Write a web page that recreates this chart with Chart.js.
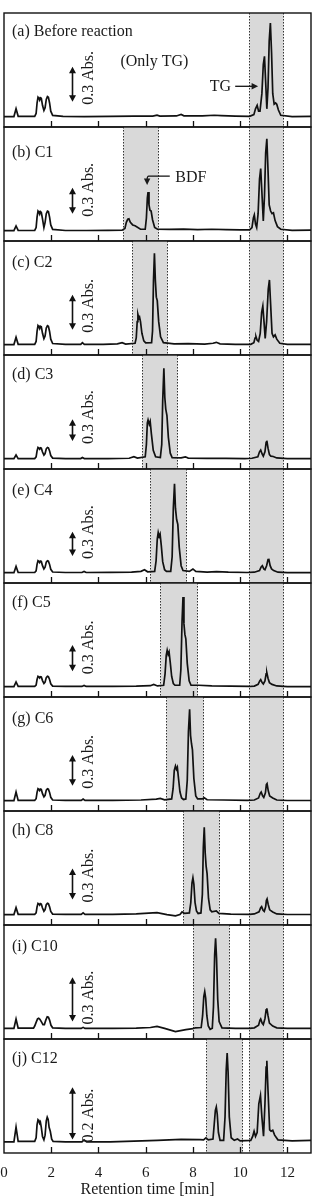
<!DOCTYPE html>
<html>
<head>
<meta charset="utf-8">
<script src="https://cdn.jsdelivr.net/npm/chart.js@4.4.0/dist/chart.umd.min.js"></script>
<style>
  html, body { margin: 0; padding: 0; background: #fff; }
  #wrap { position: relative; width: 315px; height: 1201px; overflow: hidden; }
  #wrap canvas { position: absolute; left: 0; }
</style>
</head>
<body>
<div id="wrap"></div>
<script>
// chromatograms: [retention time (min), absorbance (Abs.)]
const traceA = [[0,0.004],[0.42,0.004],[0.51,0.071],[0.6,0.006],[1.3,0.006],[1.36,0.03],[1.4,0.12],[1.44,0.17],[1.48,0.16],[1.51,0.145],[1.54,0.165],[1.58,0.16],[1.63,0.1],[1.69,0.056],[1.74,0.08],[1.79,0.15],[1.84,0.175],[1.88,0.17],[1.93,0.12],[1.98,0.05],[2.06,0.014],[2.5,0.006],[3.4,0.004],[4.5,0.006],[5.5,0.007],[6.3,0.008],[6.48,0.016],[6.6,0.008],[7.3,0.009],[7.5,0.022],[7.62,0.01],[8.4,0.01],[8.9,0.015],[9.2,0.012],[9.8,0.008],[10.4,0.006],[10.58,0.02],[10.65,0.07],[10.72,0.1],[10.78,0.05],[10.84,0.05],[10.92,0.2],[10.98,0.45],[11.03,0.52],[11.08,0.3],[11.13,0.07],[11.18,0.25],[11.23,0.65],[11.28,0.805],[11.33,0.55],[11.38,0.2],[11.44,0.11],[11.5,0.12],[11.55,0.11],[11.62,0.06],[11.72,0.015],[12.2,0.004],[13,0.006]];
const traceB = [[0,0.004],[0.42,0.004],[0.51,0.058],[0.6,0.006],[1.3,0.006],[1.36,0.04],[1.4,0.16],[1.44,0.23],[1.48,0.215],[1.51,0.195],[1.54,0.225],[1.58,0.215],[1.63,0.14],[1.69,0.04],[1.74,0.1],[1.79,0.2],[1.84,0.23],[1.88,0.225],[1.93,0.16],[1.98,0.07],[2.06,0.018],[2.6,0.006],[3.5,0.006],[4.4,0.008],[5,0.01],[5.12,0.03],[5.18,0.1],[5.24,0.135],[5.29,0.14],[5.35,0.1],[5.45,0.07],[5.55,0.06],[5.78,0.02],[5.98,0.02],[6.03,0.15],[6.07,0.38],[6.1,0.45],[6.14,0.3],[6.18,0.24],[6.23,0.23],[6.29,0.13],[6.38,0.04],[6.5,0.02],[7,0.018],[7.6,0.022],[8.2,0.016],[8.8,0.02],[9.4,0.016],[10,0.014],[10.4,0.012],[10.5,0.04],[10.56,0.15],[10.6,0.185],[10.65,0.08],[10.7,0.04],[10.76,0.2],[10.82,0.6],[10.87,0.72],[10.92,0.45],[10.98,0.115],[11.03,0.4],[11.08,0.9],[11.13,1.065],[11.18,0.7],[11.23,0.3],[11.29,0.23],[11.35,0.2],[11.41,0.21],[11.48,0.12],[11.58,0.05],[11.72,0.02],[12.2,0.008],[13,0.01]];
const traceC = [[0,0.004],[0.42,0.004],[0.51,0.066],[0.6,0.006],[1.3,0.006],[1.36,0.03],[1.4,0.116],[1.44,0.166],[1.48,0.156],[1.51,0.141],[1.54,0.161],[1.58,0.156],[1.63,0.1],[1.69,0.055],[1.74,0.078],[1.79,0.146],[1.84,0.166],[1.88,0.161],[1.93,0.116],[1.98,0.05],[2.06,0.013],[2.6,0.006],[3.25,0.006],[3.32,0.02],[3.4,0.006],[4.2,0.006],[4.8,0.01],[5,0.02],[5.15,0.008],[5.55,0.015],[5.6,0.06],[5.64,0.2],[5.67,0.263],[5.71,0.23],[5.74,0.24],[5.78,0.2],[5.84,0.1],[5.92,0.035],[6,0.018],[6.25,0.02],[6.29,0.12],[6.33,0.55],[6.37,0.786],[6.41,0.55],[6.45,0.41],[6.49,0.38],[6.55,0.2],[6.63,0.07],[6.75,0.02],[7.2,0.01],[7.8,0.012],[8.5,0.008],[8.85,0.015],[8.99,0.023],[9.15,0.01],[9.8,0.006],[10.45,0.006],[10.58,0.02],[10.63,0.06],[10.67,0.071],[10.72,0.04],[10.78,0.03],[10.85,0.1],[10.91,0.28],[10.96,0.334],[11.01,0.2],[11.06,0.057],[11.12,0.2],[11.19,0.48],[11.24,0.557],[11.29,0.35],[11.35,0.1],[11.41,0.07],[11.48,0.086],[11.55,0.05],[11.68,0.015],[12,0.006],[13,0.006]];
const traceD = [[0,0.004],[0.42,0.004],[0.51,0.055],[0.6,0.006],[1.3,0.006],[1.36,0.029],[1.4,0.112],[1.44,0.16],[1.48,0.15],[1.51,0.136],[1.54,0.155],[1.58,0.15],[1.63,0.096],[1.69,0.053],[1.74,0.075],[1.79,0.141],[1.84,0.16],[1.88,0.155],[1.93,0.112],[1.98,0.048],[2.06,0.013],[2.6,0.006],[3.25,0.006],[3.32,0.02],[3.4,0.006],[4.4,0.006],[5.3,0.01],[5.5,0.032],[5.65,0.012],[5.98,0.03],[6.03,0.2],[6.07,0.5],[6.1,0.54],[6.15,0.48],[6.19,0.52],[6.24,0.35],[6.32,0.12],[6.42,0.03],[6.62,0.02],[6.68,0.2],[6.72,0.8],[6.77,1.254],[6.81,0.85],[6.85,0.69],[6.9,0.6],[6.96,0.3],[7.04,0.08],[7.12,0.02],[7.5,0.015],[7.68,0.03],[7.8,0.012],[8.6,0.01],[9.4,0.008],[10.2,0.006],[10.5,0.01],[10.75,0.03],[10.82,0.1],[10.87,0.124],[10.93,0.07],[10.98,0.04],[11.05,0.1],[11.1,0.23],[11.13,0.254],[11.18,0.15],[11.24,0.06],[11.3,0.04],[11.4,0.035],[11.55,0.015],[12,0.006],[13,0.006]];
const traceE = [[0,0.004],[0.42,0.004],[0.51,0.082],[0.6,0.006],[1.3,0.006],[1.36,0.027],[1.4,0.106],[1.44,0.152],[1.48,0.143],[1.51,0.129],[1.54,0.147],[1.58,0.143],[1.63,0.091],[1.69,0.05],[1.74,0.071],[1.79,0.134],[1.84,0.152],[1.88,0.147],[1.93,0.106],[1.98,0.046],[2.06,0.012],[2.6,0.006],[3.3,0.006],[3.39,0.02],[3.48,0.006],[4.5,0.008],[5.4,0.01],[5.8,0.02],[5.95,0.041],[6.08,0.015],[6.38,0.02],[6.44,0.15],[6.49,0.42],[6.53,0.5],[6.57,0.45],[6.61,0.48],[6.66,0.34],[6.72,0.14],[6.8,0.04],[6.88,0.02],[7.06,0.02],[7.12,0.2],[7.17,0.8],[7.22,1.1],[7.26,0.8],[7.31,0.66],[7.36,0.6],[7.42,0.32],[7.5,0.09],[7.58,0.03],[7.85,0.02],[8,0.05],[8.12,0.02],[8.6,0.012],[9,0.018],[9.5,0.01],[10.3,0.006],[10.6,0.01],[10.82,0.03],[10.89,0.075],[10.94,0.09],[11.0,0.05],[11.05,0.04],[11.12,0.09],[11.18,0.165],[11.21,0.177],[11.27,0.09],[11.33,0.05],[11.42,0.03],[11.6,0.01],[12,0.005],[13,0.005]];
const traceF = [[0,0.004],[0.42,0.004],[0.51,0.057],[0.6,0.006],[1.3,0.006],[1.36,0.022],[1.4,0.085],[1.44,0.122],[1.48,0.115],[1.51,0.104],[1.54,0.118],[1.58,0.115],[1.63,0.073],[1.69,0.04],[1.74,0.057],[1.79,0.107],[1.84,0.122],[1.88,0.118],[1.93,0.085],[1.98,0.037],[2.06,0.01],[2.6,0.006],[3.3,0.006],[3.39,0.018],[3.48,0.006],[4.6,0.008],[5.6,0.01],[6.2,0.015],[6.34,0.03],[6.5,0.012],[6.76,0.02],[6.82,0.15],[6.87,0.36],[6.91,0.418],[6.95,0.37],[6.99,0.4],[7.04,0.28],[7.1,0.12],[7.17,0.04],[7.24,0.02],[7.44,0.02],[7.49,0.2],[7.54,0.75],[7.58,1.026],[7.62,0.72],[7.66,0.6],[7.7,0.55],[7.76,0.27],[7.84,0.07],[7.92,0.02],[8.24,0.02],[8.8,0.012],[9.6,0.01],[10.4,0.006],[10.6,0.01],[10.76,0.03],[10.83,0.07],[10.87,0.084],[10.93,0.05],[10.98,0.035],[11.05,0.07],[11.1,0.15],[11.13,0.163],[11.18,0.1],[11.24,0.05],[11.35,0.03],[11.55,0.012],[12,0.005],[13,0.005]];
const traceG = [[0,0.004],[0.42,0.004],[0.51,0.088],[0.6,0.006],[1.3,0.006],[1.36,0.022],[1.4,0.084],[1.44,0.12],[1.48,0.113],[1.51,0.102],[1.54,0.116],[1.58,0.113],[1.63,0.072],[1.69,0.04],[1.74,0.056],[1.79,0.106],[1.84,0.12],[1.88,0.116],[1.93,0.084],[1.98,0.036],[2.06,0.01],[2.6,0.006],[3.27,0.006],[3.35,0.02],[3.43,0.006],[4.6,0.006],[5.8,0.01],[6.45,0.018],[6.62,0.026],[6.8,0.012],[7.1,0.02],[7.16,0.12],[7.21,0.3],[7.26,0.342],[7.3,0.31],[7.34,0.33],[7.39,0.22],[7.45,0.09],[7.52,0.03],[7.6,0.015],[7.7,0.02],[7.76,0.2],[7.81,0.68],[7.86,0.896],[7.9,0.64],[7.94,0.56],[7.98,0.5],[8.04,0.22],[8.12,0.05],[8.2,0.02],[8.4,0.02],[8.48,0.032],[8.6,0.012],[9.3,0.01],[10.3,0.006],[10.6,0.01],[10.78,0.03],[10.85,0.075],[10.89,0.088],[10.95,0.05],[11.0,0.035],[11.07,0.08],[11.11,0.16],[11.14,0.17],[11.19,0.1],[11.25,0.05],[11.38,0.03],[11.55,0.01],[12,0.005],[13,0.005]];
const traceH = [[0,0.004],[0.42,0.004],[0.51,0.071],[0.6,0.006],[1.3,0.006],[1.36,0.02],[1.4,0.079],[1.44,0.113],[1.48,0.106],[1.51,0.096],[1.54,0.11],[1.58,0.106],[1.63,0.068],[1.69,0.037],[1.74,0.053],[1.79,0.1],[1.84,0.113],[1.88,0.11],[1.93,0.079],[1.98,0.034],[2.06,0.009],[2.6,0.006],[3.27,0.006],[3.35,0.02],[3.43,0.006],[4.6,0.006],[5.6,0.01],[6.48,0.022],[6.9,0.004],[7.26,-0.008],[7.45,0.004],[7.54,0.03],[7.65,0.015],[7.85,0.02],[7.91,0.12],[7.96,0.31],[8,0.361],[8.04,0.3],[8.09,0.12],[8.15,0.04],[8.22,0.015],[8.34,0.02],[8.4,0.2],[8.44,0.65],[8.48,0.849],[8.52,0.6],[8.56,0.47],[8.6,0.4],[8.66,0.16],[8.73,0.05],[8.8,0.03],[8.99,0.04],[9.1,0.015],[9.6,0.008],[10.4,0.006],[10.6,0.01],[10.8,0.03],[10.87,0.07],[10.91,0.081],[10.97,0.045],[11.02,0.035],[11.08,0.08],[11.11,0.14],[11.14,0.155],[11.19,0.1],[11.25,0.05],[11.38,0.03],[11.55,0.01],[12,0.005],[13,0.005]];
const traceI = [[0,0.004],[0.42,0.004],[0.51,0.068],[0.6,0.006],[1.25,0.006],[1.3,0.02],[1.36,0.045],[1.42,0.068],[1.47,0.072],[1.52,0.066],[1.58,0.05],[1.65,0.03],[1.71,0.03],[1.77,0.06],[1.83,0.083],[1.88,0.08],[1.93,0.06],[1.99,0.025],[2.06,0.008],[2.6,0.004],[3.27,0.004],[3.35,0.011],[3.43,0.004],[4.6,0.004],[5.6,0.006],[6.2,0.01],[6.48,0.018],[6.8,0.004],[7.26,-0.018],[7.7,-0.004],[8,0.002],[8.1,0.008],[8.35,0.01],[8.41,0.09],[8.46,0.22],[8.5,0.253],[8.54,0.21],[8.59,0.09],[8.65,0.02],[8.73,-0.002],[8.82,0.005],[8.87,0.15],[8.92,0.5],[8.96,0.614],[9,0.48],[9.05,0.2],[9.11,0.05],[9.23,0.008],[9.8,0.004],[10.4,0.004],[10.6,0.008],[10.78,0.025],[10.84,0.06],[10.87,0.068],[10.93,0.04],[10.98,0.03],[11.05,0.07],[11.1,0.13],[11.13,0.14],[11.18,0.09],[11.24,0.04],[11.38,0.02],[11.55,0.008],[12,0.004],[13,0.004]];
const traceJ = [[0,0.004],[0.42,0.004],[0.51,0.061],[0.6,0.006],[1.3,0.006],[1.36,0.02],[1.4,0.07],[1.44,0.089],[1.48,0.084],[1.51,0.075],[1.54,0.08],[1.58,0.06],[1.63,0.025],[1.69,0.012],[1.74,0.03],[1.79,0.085],[1.83,0.099],[1.87,0.09],[1.91,0.06],[1.96,0.045],[2.02,0.015],[2.08,0.006],[2.6,0.004],[3.3,0.004],[3.39,0.012],[3.5,0.004],[4.5,0.004],[5.5,0.007],[6.5,0.01],[7.5,0.014],[8.3,0.013],[8.45,0.012],[8.55,0.02],[8.65,0.012],[8.85,0.015],[8.9,0.07],[8.95,0.125],[8.99,0.138],[9.03,0.11],[9.08,0.04],[9.15,0.01],[9.3,0.01],[9.36,0.1],[9.41,0.28],[9.45,0.344],[9.49,0.27],[9.54,0.1],[9.62,0.02],[9.75,0.01],[9.89,0.015],[10,0.008],[10.45,0.01],[10.53,0.025],[10.59,0.045],[10.65,0.025],[10.72,0.04],[10.79,0.15],[10.86,0.182],[10.92,0.1],[10.99,0.026],[11.05,0.15],[11.1,0.29],[11.13,0.315],[11.18,0.2],[11.25,0.05],[11.31,0.045],[11.38,0.049],[11.46,0.03],[11.6,0.012],[12.2,0.008],[13,0.01]];

const traces = [traceA, traceB, traceC, traceD, traceE, traceF, traceG, traceH, traceI, traceJ];
const panelLabels = ['(a) Before reaction', '(b) C1', '(c) C2', '(d) C3', '(e) C4', '(f) C5', '(g) C6', '(h) C8', '(i) C10', '(j) C12'];
const scaleBars = [0.3, 0.3, 0.3, 0.3, 0.3, 0.3, 0.3, 0.3, 0.3, 0.2];   // Abs. per arrow
const yMaxAbs = [0.891, 1.2, 0.891, 1.438, 1.284, 1.186, 1.017, 1.007, 0.704, 0.398]; // top of each panel
const arrowBase = [0.13, 0.2, 0.13, 0.25, 0.21, 0.18, 0.15, 0.15, 0.05, 0.013];
const tgBand = [10.38, 11.8];
const bdfBands = [null, [5.05, 6.53], [5.43, 6.91], [5.85, 7.33], [6.2, 7.71], [6.62, 8.17], [6.88, 8.41], [7.58, 9.11], [8.0, 9.54], [8.55, 10.06]];
const xTicks = [2, 4, 6, 8, 10, 12];

const FONT = '"Liberation Serif", "Times New Roman", serif';
const PANEL_TOP = 13;
const PANEL_H = 114;
const labelOffset = [19, 26, 22, 20, 22, 20, 22, 20, 22, 20];

function text(ctx, str, px, py, align) {
  ctx.textAlign = align || 'center';
  ctx.textBaseline = 'middle';
  ctx.fillText(str, px, py);
}

function panelPlugin(i) {
  return {
    id: 'panel' + i,
    beforeDatasetsDraw(chart) {
      const { ctx, chartArea: a, scales: { x } } = chart;
      ctx.save();
      const bands = bdfBands[i] ? [bdfBands[i], tgBand] : [tgBand];
      bands.forEach(b => {
        const x0 = Math.round(x.getPixelForValue(b[0])) + 0.5;
        const x1 = Math.round(x.getPixelForValue(b[1])) + 0.5;
        ctx.fillStyle = '#d9d9d9';
        ctx.fillRect(x0, a.top, x1 - x0, a.bottom - a.top);
        ctx.strokeStyle = '#333';
        ctx.lineWidth = 1;
        ctx.setLineDash([1.5, 1.5]);
        [x0, x1].forEach(px => {
          ctx.beginPath();
          ctx.moveTo(px, a.top);
          ctx.lineTo(px, a.bottom);
          ctx.stroke();
        });
        ctx.setLineDash([]);
      });
      ctx.restore();
    },
    afterDraw(chart) {
      const { ctx, chartArea: a, scales: { x, y } } = chart;
      ctx.save();
      // frame + inward ticks
      ctx.strokeStyle = '#111';
      ctx.lineWidth = 1.4;
      ctx.strokeRect(a.left, a.top, a.right - a.left, a.bottom - a.top);
      ctx.lineWidth = 1.3;
      xTicks.forEach(v => {
        const px = Math.round(x.getPixelForValue(v)) + 0.5;
        ctx.beginPath();
        ctx.moveTo(px, a.bottom);
        ctx.lineTo(px, a.bottom - 6);
        ctx.stroke();
      });

      ctx.fillStyle = '#1a1a1a';
      ctx.font = '16px ' + FONT;
      text(ctx, panelLabels[i], a.left + 8, a.top + labelOffset[i], 'left');

      // scale bar arrow
      const ax = Math.round(x.getPixelForValue(2.86)) + 0.5;
      const yb = y.getPixelForValue(arrowBase[i]);
      const yt = y.getPixelForValue(arrowBase[i] + scaleBars[i]);
      ctx.strokeStyle = '#111';
      ctx.lineWidth = 1.6;
      ctx.beginPath();
      ctx.moveTo(ax, yb - 4);
      ctx.lineTo(ax, yt + 4);
      ctx.stroke();
      ctx.fillStyle = '#111';
      ctx.beginPath();
      ctx.moveTo(ax, yt); ctx.lineTo(ax - 3.5, yt + 6.5); ctx.lineTo(ax + 3.5, yt + 6.5); ctx.closePath();
      ctx.moveTo(ax, yb); ctx.lineTo(ax - 3.5, yb - 6.5); ctx.lineTo(ax + 3.5, yb - 6.5); ctx.closePath();
      ctx.fill();
      ctx.save();
      ctx.translate(ax + 16, yb + 3);
      ctx.rotate(-Math.PI / 2);
      ctx.fillStyle = '#1a1a1a';
      text(ctx, scaleBars[i].toFixed(1) + ' Abs.', 0, 0, 'left');
      ctx.restore();

      ctx.fillStyle = '#1a1a1a';
      ctx.strokeStyle = '#111';
      if (i === 0) {
        text(ctx, '(Only TG)', x.getPixelForValue(6.37), y.getPixelForValue(0.47));
        const ty = y.getPixelForValue(0.263);
        text(ctx, 'TG', x.getPixelForValue(9.16), ty);
        const x0 = x.getPixelForValue(9.79), x1 = x.getPixelForValue(10.76);
        ctx.lineWidth = 1.3;
        ctx.beginPath(); ctx.moveTo(x0, ty); ctx.lineTo(x1 - 5, ty); ctx.stroke();
        ctx.beginPath(); ctx.moveTo(x1, ty); ctx.lineTo(x1 - 6.5, ty - 3.2); ctx.lineTo(x1 - 6.5, ty + 3.2); ctx.closePath(); ctx.fill();
      }
      if (i === 1) {
        text(ctx, 'BDF', x.getPixelForValue(7.91), y.getPixelForValue(0.615));
        const hy = y.getPixelForValue(0.634);
        const x0 = x.getPixelForValue(7.02), x1 = x.getPixelForValue(6.13);
        const tipX = x.getPixelForValue(6.06), tipY = y.getPixelForValue(0.53);
        ctx.lineWidth = 1.3;
        ctx.beginPath();
        ctx.moveTo(x0, hy);
        ctx.lineTo(x1, hy);
        ctx.quadraticCurveTo(tipX, hy, tipX, tipY - 5);
        ctx.stroke();
        ctx.beginPath(); ctx.moveTo(tipX, tipY); ctx.lineTo(tipX - 3.2, tipY - 6.5); ctx.lineTo(tipX + 3.2, tipY - 6.5); ctx.closePath(); ctx.fill();
      }
      if (i === traces.length - 1) {
        text(ctx, 'Retention time [min]', x.getPixelForValue(6.08), a.bottom + 37);
      }
      ctx.restore();
    }
  };
}

const wrap = document.getElementById('wrap');
traces.forEach((trace, i) => {
  const last = i === traces.length - 1;
  const h = last ? 164 : PANEL_H + 4;
  const cv = document.createElement('canvas');
  cv.width = 315;
  cv.height = h;
  cv.style.width = '315px';
  cv.style.height = h + 'px';
  cv.style.top = (PANEL_TOP + i * PANEL_H - 2) + 'px';
  wrap.appendChild(cv);

  new Chart(cv, {
    type: 'line',
    data: {
      datasets: [{
        data: trace.map(p => ({ x: p[0], y: p[1] })),
        borderColor: '#111',
        borderWidth: 1.7,
        pointRadius: 0,
        tension: 0,
        fill: false
      }]
    },
    options: {
      responsive: false,
      animation: false,
      devicePixelRatio: 1,
      events: [],
      // last panel: 40px axis band (15px * 2.67 line height) + 8px under it
      layout: { padding: { top: 2, bottom: last ? 8 : 2, left: 4, right: 4 } },
      plugins: { legend: { display: false }, tooltip: { enabled: false } },
      scales: {
        x: {
          type: 'linear',
          min: 0,
          max: 13,
          display: last,
          grid: { display: false, drawTicks: false },
          border: { display: false },
          ticks: {
            stepSize: 2,
            includeBounds: false,
            padding: 0,
            maxRotation: 0,
            color: '#1a1a1a',
            font: { family: FONT, size: 15, lineHeight: 2.667 }
          }
        },
        y: {
          display: false,
          min: -yMaxAbs[i] * 10 / 104,
          max: yMaxAbs[i]
        }
      }
    },
    plugins: [panelPlugin(i)]
  });
});
</script>
</body>
</html>
